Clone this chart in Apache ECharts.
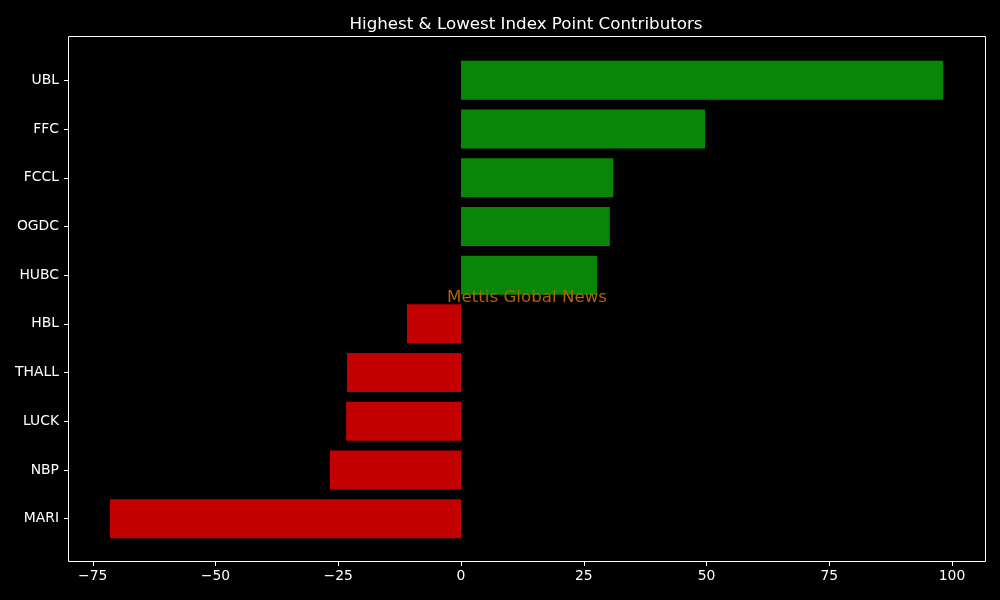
<!DOCTYPE html>
<html>
<head>
<meta charset="utf-8">
<script src="https://cdn.jsdelivr.net/npm/echarts@6/dist/echarts.min.js"></script>
<style>
  html, body { margin: 0; padding: 0; background: #000; }
  #chart { width: 1000px; height: 600px; }
</style>
</head>
<body>
<div id="chart"></div>
<script>
// data
const stocks = ['UBL', 'FFC', 'FCCL', 'OGDC', 'HUBC', 'HBL', 'THALL', 'LUCK', 'NBP', 'MARI']
const points = [98.2, 49.7, 31.0, 30.3, 27.7, -11.0, -23.2, -23.4, -26.7, -71.5]
const xTicks = [-75, -50, -25, 0, 25, 50, 75, 100]

const font = 'DejaVu Sans'
const minus = v => String(v).replace('-', '\u2212')

const chart = echarts.init(document.getElementById('chart'))
chart.setOption({
  backgroundColor: '#000',
  animation: false,
  title: {
    text: 'Highest & Lowest Index Point Contributors',
    left: 521,
    textAlign: 'center',
    top: 11,
    textStyle: { color: '#fff', fontFamily: font, fontSize: 16.7, fontWeight: 'normal' }
  },
  graphic: [{
    type: 'text',
    x: 527,
    y: 298,
    z: 100,
    style: {
      text: 'Mettis Global News', fill: '#b36200', font: '16.7px "DejaVu Sans"',
      textAlign: 'center', textVerticalAlign: 'middle'
    }
  }],
  grid: [
    { left: 69, right: 15, top: 56, height: 487 },
    { left: 68.5, right: 14.5, top: 36.5, bottom: 38.5, show: true, borderColor: '#fff', borderWidth: 1, z: 0 }
  ],
  xAxis: [
    {
      type: 'value',
      gridIndex: 0,
      min: -79.84,
      max: 106.72,
      offset: 18,
      splitLine: { show: false },
      axisLine: { show: false },
      axisTick: { show: true, length: 5, lineStyle: { color: '#fff' }, customValues: xTicks },
      axisLabel: {
        color: '#fff', fontFamily: font, fontSize: 13.9, margin: 8,
        customValues: xTicks, formatter: minus
      }
    },
    { type: 'value', gridIndex: 1, show: false }
  ],
  yAxis: [
    {
      type: 'category',
      gridIndex: 0,
      inverse: true,
      data: stocks,
      axisLine: { show: false, onZero: false },
      axisTick: { show: true, alignWithLabel: true, length: 5, lineStyle: { color: '#fff' } },
      axisLabel: { color: '#fff', fontFamily: font, fontSize: 13.9, margin: 10 }
    },
    { type: 'value', gridIndex: 1, show: false }
  ],
  series: [{
    type: 'bar',
    xAxisIndex: 0,
    yAxisIndex: 0,
    barWidth: '80%',
    data: points.map(v => ({
      value: v,
      itemStyle: { color: v >= 0 ? '#078607' : '#c20000' }
    }))
  }]
})
</script>
</body>
</html>
